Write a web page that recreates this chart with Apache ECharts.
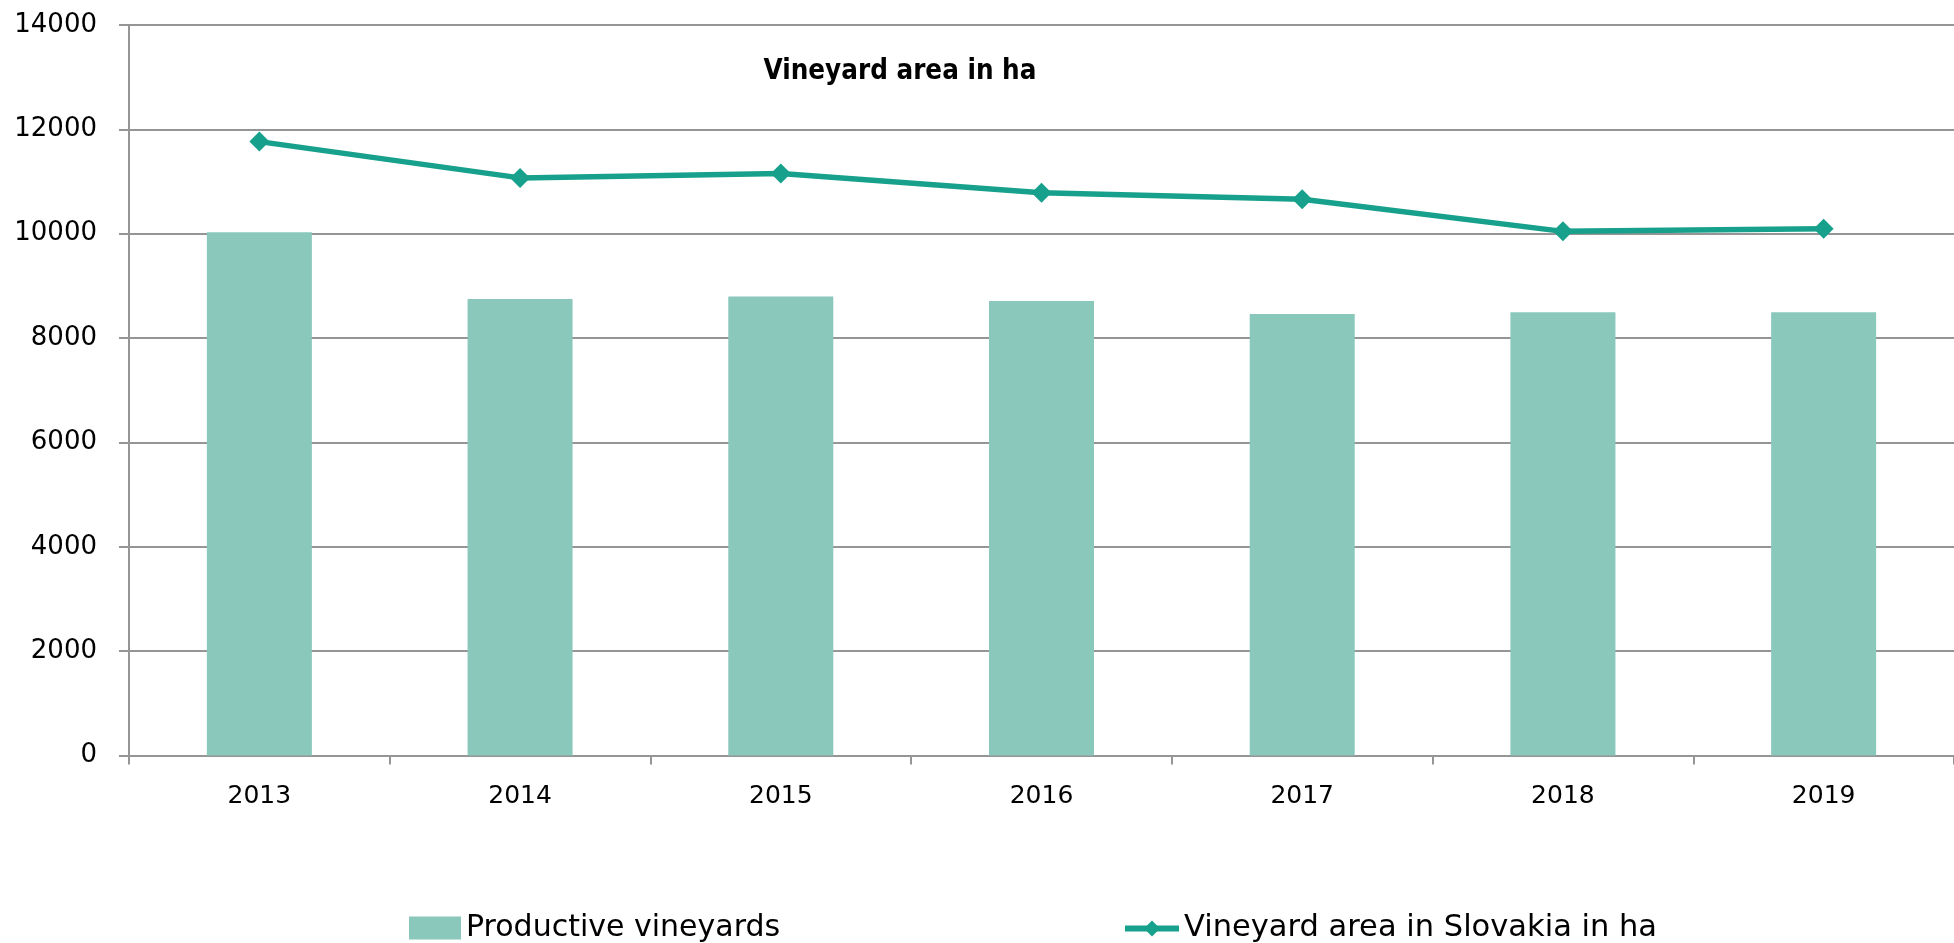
<!DOCTYPE html>
<html>
<head>
<meta charset="utf-8">
<script src="https://cdn.jsdelivr.net/npm/echarts@6/dist/echarts.min.js"></script>
<style>
html,body{margin:0;padding:0;background:#fff;}
#chart{width:1954px;height:943px;}
</style>
</head>
<body>
<div id="chart"></div>
<script>
const categories = ['2013', '2014', '2015', '2016', '2017', '2018', '2019'];
const productiveVineyards = [10030, 8750, 8795, 8710, 8460, 8495, 8495];
const vineyardArea = [11765, 11070, 11155, 10785, 10660, 10045, 10095];
const yTicks = [0, 2000, 4000, 6000, 8000, 10000, 12000, 14000];

const FONT = 'DejaVu Sans';
const GREY = '#959595';
const chart = echarts.init(document.getElementById('chart'), null, {renderer: 'canvas'});
chart.setOption({
  animation: false,
  backgroundColor: '#ffffff',
  textStyle: {fontFamily: FONT, color: '#000'},
  title: {
    text: 'Vineyard area in ha',
    left: 895, top: 67,
    textAlign: 'center', textVerticalAlign: 'middle',
    textStyle: {fontFamily: 'DejaVu Sans Condensed', fontWeight: 'bold', fontSize: 27.5, color: '#000'}
  },
  grid: {left: 129, top: 25, right: -15.6, bottom: 187.5, containLabel: false},
  legend: [
    {
      data: [{name: 'Productive vineyards', icon: 'rect'}],
      left: 409, top: 913, padding: 0,
      itemWidth: 52, itemHeight: 23,
      textStyle: {fontFamily: FONT, fontSize: 30, color: '#000'}
    },
    {
      data: [{name: 'Vineyard area in Slovakia in ha'}],
      left: 1122, top: 913, padding: 0,
      itemWidth: 54, itemHeight: 20,
      lineStyle: {width: 6},
      textStyle: {fontFamily: FONT, fontSize: 30.5, color: '#000'}
    }
  ],
  xAxis: {
    type: 'category',
    data: categories,
    boundaryGap: true,
    axisLine: {lineStyle: {color: GREY, width: 2}},
    axisTick: {show: true, length: 9, lineStyle: {color: GREY, width: 2}},
    axisLabel: {fontFamily: FONT, fontSize: 25, color: '#000', margin: 28},
    splitLine: {show: false}
  },
  yAxis: {
    type: 'value',
    min: yTicks[0], max: yTicks[yTicks.length - 1], interval: 2000,
    axisLine: {show: true, lineStyle: {color: GREY, width: 2}},
    axisTick: {show: true, length: 10, lineStyle: {color: GREY, width: 2}},
    axisLabel: {fontFamily: FONT, fontSize: 26, color: '#000', margin: 32, formatter: v => String(v)},
    splitLine: {show: true, lineStyle: {color: GREY, width: 2}}
  },
  series: [
    {
      name: 'Productive vineyards',
      type: 'bar',
      data: productiveVineyards,
      barWidth: 105,
      itemStyle: {color: '#89C8BB'},
      z: 2
    },
    {
      name: 'Vineyard area in Slovakia in ha',
      type: 'line',
      data: vineyardArea,
      symbol: 'diamond',
      symbolSize: 20,
      lineStyle: {color: '#17A08B', width: 5.5},
      itemStyle: {color: '#17A08B'},
      z: 3
    }
  ]
});
</script>
</body>
</html>
